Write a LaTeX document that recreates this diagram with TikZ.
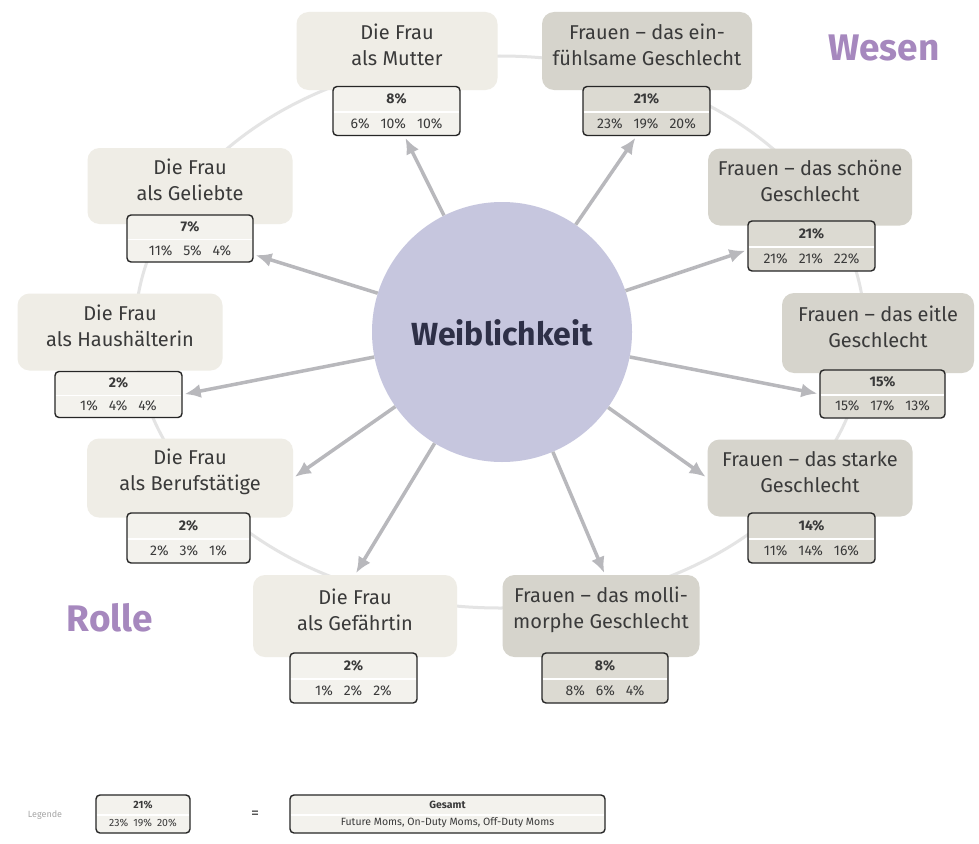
\documentclass[tikz,border=0pt]{standalone}
\usepackage{fontspec}
\setmainfont{Fira Sans}
\usetikzlibrary{arrows.meta,calc}
\definecolor{rolefill}{HTML}{EFEDE6}
\definecolor{wesenfill}{HTML}{D6D4CC}
\definecolor{rolestat}{HTML}{F3F2ED}
\definecolor{wesenstat}{HTML}{DCDAD2}
\definecolor{ringgray}{HTML}{E4E4E4}
\definecolor{arrgray}{HTML}{B8B8BC}
\definecolor{centerfill}{HTML}{C6C6DE}
\definecolor{navy}{HTML}{2E3047}
\definecolor{lilac}{HTML}{A688BE}
\definecolor{txt}{HTML}{3A3A3A}
\newcommand{\mygap}{\hspace{11pt}}
\newcommand{\mkstat}[8]{%
  \node[statfr, fill=#6, minimum width=#4pt, minimum height=#5pt] (#1) at (#2,#3) {};
  \draw[white, line width=1.3pt] ($(#1.west)+(1.5,1)$) -- ($(#1.east)+(-1.5,1)$);
  \node[stattop] at ($(#1.center)+(0,-0.25*#5)$) {#7};
  \node[statbot] at ($(#1.center)+(0,0.25*#5)$) {#8};
}
\newcommand{\mklabel}[7]{%
  \node[lbl, fill=#6, minimum width=#4pt, minimum height=#5pt] (#1) at (#2,#3) {};
  \node[lbltext] at ($(#1.center)+(0,-6)$) {#7};
}
\begin{document}
\begin{tikzpicture}[x=1pt,y=-1pt,
  statfr/.style={draw=black!85, line width=1.4pt, rounded corners=4pt, inner sep=0pt},
  stattop/.style={font=\fontsize{14}{14}\selectfont\bfseries, text=txt, inner sep=0pt},
  statbot/.style={font=\fontsize{14}{14}\selectfont, text=txt, inner sep=0pt},
  lbl/.style={rounded corners=12pt, inner sep=0pt},
  lbltext/.style={font=\fontsize{20}{26}\selectfont, text=txt, align=center, inner sep=0pt},
  arr/.style={draw=arrgray, line width=3.5pt, -{Latex[length=16pt,width=14pt]}, shorten >=2pt},
  big/.style={font=\fontsize{37}{37}\selectfont\bfseries, text=lilac}
]
\useasboundingbox (0,0) rectangle (979,843);
\fill[white] (0,0) rectangle (979,843);

% ring
\draw[ringgray, line width=3pt] (500,332) ellipse [x radius=365, y radius=276];

% label boxes
\mklabel{lMutter}{397}{51}{201}{78}{rolefill}{Die Frau\\als Mutter}
\mklabel{lEin}{647}{51}{210}{78}{wesenfill}{Frauen – das ein-\\fühlsame Geschlecht}
\mklabel{lGel}{190}{186}{205}{76}{rolefill}{Die Frau\\als Geliebte}
\mklabel{lSchoen}{810}{187}{204}{77}{wesenfill}{Frauen – das schöne\\Geschlecht}
\mklabel{lHaus}{120}{332}{205}{77}{rolefill}{Die Frau\\als Haushälterin}
\mklabel{lEitle}{878}{333}{192}{80}{wesenfill}{Frauen – das eitle\\Geschlecht}
\mklabel{lBeruf}{190}{478}{206}{79}{rolefill}{Die Frau\\als Berufstätige}
\mklabel{lStarke}{810}{478}{205}{77}{wesenfill}{Frauen – das starke\\Geschlecht}
\mklabel{lGef}{355}{616}{204}{82}{rolefill}{Die Frau\\als Gefährtin}
\mklabel{lMolli}{601}{616}{197}{82}{wesenfill}{Frauen – das molli-\\morphe Geschlecht}

% stat boxes
\mkstat{sMutter}{396.5}{111}{127}{49}{rolestat}{8\%}{6\%\mygap 10\%\mygap 10\%}
\mkstat{sEin}{646.5}{111}{127}{49}{wesenstat}{21\%}{23\%\mygap 19\%\mygap 20\%}
\mkstat{sGel}{190}{238.5}{126}{47}{rolestat}{7\%}{11\%\mygap 5\%\mygap 4\%}
\mkstat{sSchoen}{811.5}{246}{127}{50}{wesenstat}{21\%}{21\%\mygap 21\%\mygap 22\%}
\mkstat{sHaus}{118.5}{394.5}{127}{46}{rolestat}{2\%}{1\%\mygap 4\%\mygap 4\%}
\mkstat{sEitle}{882.5}{394}{125}{48}{wesenstat}{15\%}{15\%\mygap 17\%\mygap 13\%}
\mkstat{sBeruf}{188.5}{538}{123}{50}{rolestat}{2\%}{2\%\mygap 3\%\mygap 1\%}
\mkstat{sStarke}{811.5}{538}{127}{50}{wesenstat}{14\%}{11\%\mygap 14\%\mygap 16\%}
\mkstat{sGef}{353.5}{678}{127}{50}{rolestat}{2\%}{1\%\mygap 2\%\mygap 2\%}
\mkstat{sMolli}{605}{678}{126}{50}{wesenstat}{8\%}{8\%\mygap 6\%\mygap 4\%}

% centre
\node[circle, fill=centerfill, minimum size=260pt, inner sep=0pt] (c) at (502,332) {};
\node[font=\fontsize{32}{32}\selectfont\bfseries, text=navy, inner sep=0pt] (ctext) at (502,333) {Weiblichkeit};

% arrows
\draw[arr] (c) -- ($(sMutter.south)+(8,0)$);
\draw[arr] (c) -- ($(sEin.south)+(-10,0)$);
\draw[arr] (c) -- ($(sGel.east)+(0,16)$);
\draw[arr] (c) -- ($(sSchoen.west)+(0,4)$);
\draw[arr] (c) -- (sHaus.east);
\draw[arr] (c) -- (sEitle.west);
\draw[arr] (c) -- (lBeruf.east);
\draw[arr] (c) -- (lStarke.west);
\draw[arr] (c) -- (lGef.north);
\draw[arr] (c) -- ($(lMolli.north)+(4,0)$);

% category words
\node[big] (wesen) at (884,48) {Wesen};
\node[big] (rolle) at (110,618) {Rolle};

% legend
\node[font=\fontsize{9}{9}\selectfont, text=black!35] (leg) at (45,815) {Legende};
\node[statfr, fill=rolestat, minimum width=94pt, minimum height=38pt] (legS) at (143,814) {};
\draw[white, line width=1.3pt] ($(legS.west)+(1.5,1)$) -- ($(legS.east)+(-1.5,1)$);
\node[stattop, font=\fontsize{10.5}{10.5}\selectfont\bfseries] at ($(legS.center)+(0,-9)$) {21\%};
\node[statbot, font=\fontsize{10.5}{10.5}\selectfont] at ($(legS.center)+(0,9)$) {23\%\hspace{5pt}19\%\hspace{5pt}20\%};
\node[font=\fontsize{16}{16}\selectfont, text=txt] (eq) at (255,815) {=};
\node[statfr, fill=rolestat, minimum width=315pt, minimum height=38pt] (legB) at (447.5,814) {};
\draw[white, line width=1.3pt] ($(legB.west)+(1.5,1)$) -- ($(legB.east)+(-1.5,1)$);
\node[stattop, font=\fontsize{10.5}{10.5}\selectfont\bfseries] at ($(legB.center)+(0,-9)$) {Gesamt};
\node[statbot, font=\fontsize{10.5}{10.5}\selectfont] at ($(legB.center)+(0,9)$) {Future Moms, On-Duty Moms, Off-Duty Moms};
\end{tikzpicture}
\end{document}
